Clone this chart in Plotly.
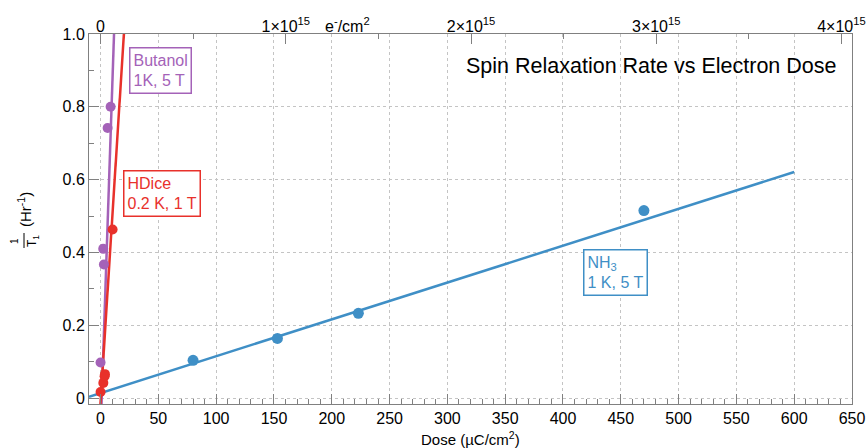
import plotly.graph_objects as go

# ---------------- data ----------------
nh3_dose = [80, 153, 223, 470]
nh3_rate = [0.104, 0.164, 0.233, 0.515]
nh3_fit_dose = [-10, 600]
nh3_fit_rate = [0.004, 0.621]

but_dose = [0, 2.3, 2.9, 6.1, 8.7]
but_rate = [0.098, 0.41, 0.367, 0.742, 0.800]
but_fit_dose = [0.8, 12.5]
but_fit_rate = [-0.02, 1.08]

hd_dose = [0, 2.4, 3.5, 3.8, 10.4]
hd_rate = [0.017, 0.042, 0.060, 0.066, 0.463]
hd_fit_dose = [-0.2, 22]
hd_fit_rate = [-0.02, 1.09]

x_ticks = list(range(0, 651, 50))
y_ticks = [0, 0.2, 0.4, 0.6, 0.8, 1.0]
y_ticktext = ["0", "0.2", "0.4", "0.6", "0.8", "1.0"]
e_ticks = [0, 1e15, 2e15, 3e15, 4e15]
e_ticktext = ["0", "1×10<sup>15</sup>", "2×10<sup>15</sup>", "3×10<sup>15</sup>", "4×10<sup>15</sup>"]
E_PER_UC = 6.2415e12  # electrons per µC

BLUE = "#3f8fc6"
RED = "#e8312b"
PURPLE = "#a462b8"
AX = "#808080"
FONT = "Liberation Sans"

W, H = 867, 448
L, R, T, B = 89, 15, 34, 44
PW, PH = W - L - R, H - T - B


def px(x):
    return (x - L) / PW


def py(y):
    return (H - B - y) / PH


fig = go.Figure()

# fit lines
fig.add_trace(go.Scatter(x=nh3_fit_dose, y=nh3_fit_rate, mode="lines",
                         line=dict(color=BLUE, width=2.5), showlegend=False, hoverinfo="skip"))
fig.add_trace(go.Scatter(x=but_fit_dose, y=but_fit_rate, mode="lines",
                         line=dict(color=PURPLE, width=2.5), showlegend=False, hoverinfo="skip"))
fig.add_trace(go.Scatter(x=hd_fit_dose, y=hd_fit_rate, mode="lines",
                         line=dict(color=RED, width=2.5), showlegend=False, hoverinfo="skip"))
# points
fig.add_trace(go.Scatter(x=but_dose, y=but_rate, mode="markers",
                         marker=dict(color=PURPLE, size=10), showlegend=False))
fig.add_trace(go.Scatter(x=hd_dose, y=hd_rate, mode="markers",
                         marker=dict(color=RED, size=10), showlegend=False))
fig.add_trace(go.Scatter(x=nh3_dose, y=nh3_rate, mode="markers",
                         marker=dict(color=BLUE, size=11), showlegend=False))
# invisible trace on the top (electron) axis
fig.add_trace(go.Scatter(x=[d * E_PER_UC for d in nh3_dose], y=nh3_rate, mode="markers",
                         marker=dict(opacity=0), xaxis="x2", showlegend=False, hoverinfo="skip"))

tickfont = dict(family=FONT, size=16, color="black")

fig.update_layout(
    width=W, height=H,
    margin=dict(l=L, r=R, t=T, b=B, autoexpand=False),
    plot_bgcolor="white", paper_bgcolor="white",
    font=dict(family=FONT, color="black"),
    showlegend=False,
    xaxis=dict(
        range=[-10, 650], tickvals=x_ticks, ticks="inside", ticklen=10, tickcolor=AX,
        showline=True, linecolor=AX, linewidth=1, zeroline=False, automargin=False,
        showgrid=True, gridcolor="#c4c4c4", griddash="dot", gridwidth=1,
        minor=dict(dtick=10, tick0=0, ticks="inside", ticklen=5, tickcolor=AX, showgrid=False),
        tickfont=tickfont,
    ),
    xaxis2=dict(
        overlaying="x", side="top", anchor="y",
        range=[-10 * E_PER_UC, 650 * E_PER_UC], tickvals=e_ticks, ticktext=e_ticktext,
        ticks="inside", ticklen=10, tickcolor=AX, automargin=False,
        showline=True, linecolor=AX, linewidth=1, zeroline=False, showgrid=False,
        minor=dict(dtick=0.5e15, tick0=0, ticks="inside", ticklen=5, tickcolor=AX, showgrid=False),
        tickfont=tickfont, ticklabelstandoff=-5,
    ),
    yaxis=dict(
        range=[-0.016, 1.0], tickvals=y_ticks, ticktext=y_ticktext,
        ticks="inside", ticklen=10, tickcolor=AX, automargin=False,
        showline=True, linecolor=AX, linewidth=1, mirror=True, zeroline=False,
        showgrid=True, gridcolor="#c4c4c4", griddash="dot", gridwidth=1,
        minor=dict(dtick=0.1, tick0=0, ticks="inside", ticklen=5, tickcolor=AX, showgrid=False),
        tickfont=tickfont,
    ),
)

ann = []
# title inside plot
ann.append(dict(text="Spin Relaxation Rate vs Electron Dose", xref="paper", yref="paper",
                x=px(838), y=py(66), xanchor="right", yanchor="middle", showarrow=False,
                font=dict(family=FONT, size=21.5, color="black")))
# series boxes
ann.append(dict(text="Butanol<br>1K, 5 T", xref="paper", yref="paper", x=px(129), y=py(47),
                xanchor="left", yanchor="top", align="left", showarrow=False,
                font=dict(family=FONT, size=16, color=PURPLE),
                bordercolor=PURPLE, borderwidth=1.5, borderpad=3, bgcolor="white"))
ann.append(dict(text="HDice<br>0.2 K, 1 T", xref="paper", yref="paper", x=px(123), y=py(170),
                xanchor="left", yanchor="top", align="left", showarrow=False,
                font=dict(family=FONT, size=16, color=RED),
                bordercolor=RED, borderwidth=1.5, borderpad=3, bgcolor="white"))
ann.append(dict(text="NH<sub>3</sub><br>1 K, 5 T", xref="paper", yref="paper", x=px(583), y=py(249),
                xanchor="left", yanchor="top", align="left", showarrow=False,
                font=dict(family=FONT, size=16, color=BLUE),
                bordercolor=BLUE, borderwidth=1.5, borderpad=3, bgcolor="white"))
# axis titles
ann.append(dict(text="Dose (µC/cm<sup>2</sup>)", xref="paper", yref="paper", x=0.5, y=py(438),
                xanchor="center", yanchor="middle", showarrow=False,
                font=dict(family=FONT, size=15, color="black")))
ann.append(dict(text="e<sup>-</sup>/cm<sup>2</sup>", xref="paper", yref="paper", x=px(347), y=py(25),
                xanchor="center", yanchor="middle", showarrow=False,
                font=dict(family=FONT, size=16, color="black")))
ann.append(dict(text="(Hr<sup>-1</sup>)", xref="paper", yref="paper", x=px(24), y=py(210),
                xanchor="center", yanchor="middle", textangle=-90, showarrow=False,
                font=dict(family=FONT, size=15, color="black")))
ann.append(dict(text="1", xref="paper", yref="paper", x=px(14), y=py(241),
                xanchor="center", yanchor="middle", textangle=-90, showarrow=False,
                font=dict(family=FONT, size=10, color="black")))
ann.append(dict(text="T<sub>1</sub>", xref="paper", yref="paper", x=px(33), y=py(241),
                xanchor="center", yanchor="middle", textangle=-90, showarrow=False,
                font=dict(family=FONT, size=12, color="black")))
fig.update_layout(annotations=ann)
fig.add_shape(type="line", xref="paper", yref="paper", x0=px(24), x1=px(24), y0=py(233), y1=py(248),
              line=dict(color="black", width=1))

fig.write_html("out.html", config={"displayModeBar": False},
               post_script="document.body.style.margin='0';document.body.style.padding='0';")
